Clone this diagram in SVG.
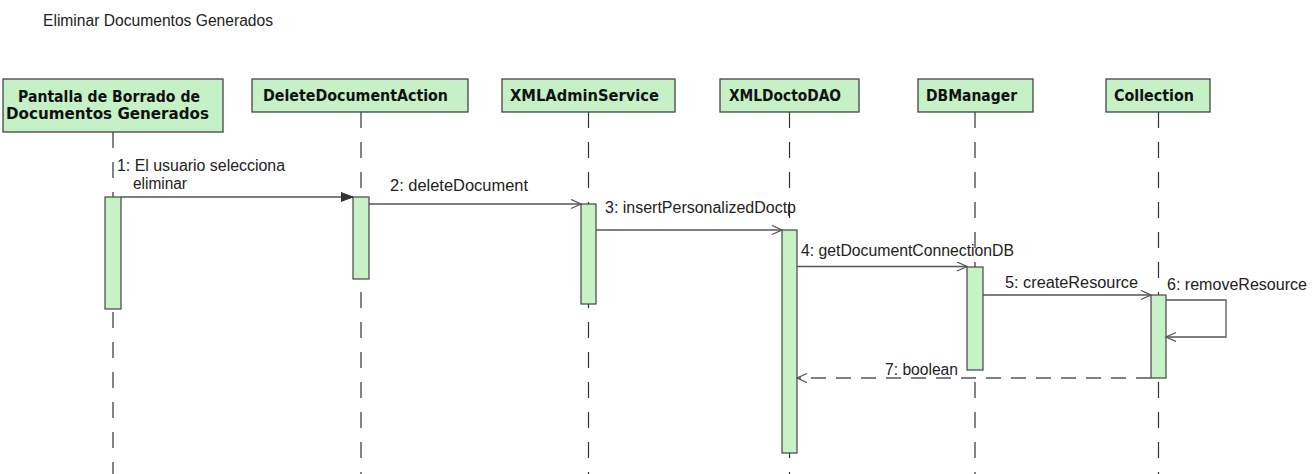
<svg xmlns="http://www.w3.org/2000/svg" width="1314" height="474" viewBox="0 0 1314 474">
  <style>
    .box { fill: #c6f0c6; stroke: #444; stroke-width: 1.3; }
    .bar { fill: #c6f2c6; stroke: #444; stroke-width: 1.2; }
    .life { stroke: #333; stroke-width: 1.2; stroke-dasharray: 16 14; fill: none; }
    .title { font-family: "DejaVu Sans", Verdana, sans-serif; font-weight: bold; font-size: 15.5px; fill: #111; }
    .lbl { font-family: "Liberation Sans", Arial, sans-serif; font-size: 16px; fill: #222; }
    .msg { stroke: #555; stroke-width: 1.3; fill: none; }
    .ret { stroke: #555; stroke-width: 1.3; fill: none; stroke-dasharray: 15 10; }
  </style>
  <defs>
    <marker id="open" markerUnits="userSpaceOnUse" markerWidth="14" markerHeight="12" refX="11" refY="5" orient="auto">
      <path d="M1,0.5 L11,5 L1,9.5" fill="none" stroke="#555" stroke-width="1.3"/>
    </marker>
    <marker id="filled" markerUnits="userSpaceOnUse" markerWidth="14" markerHeight="12" refX="12" refY="5" orient="auto">
      <path d="M0,0.5 L12,5 L0,9.5 Z" fill="#333" stroke="#333" stroke-width="1"/>
    </marker>
  </defs>

  <rect width="1314" height="474" fill="#fff"/>

  <text class="lbl" x="43" y="26" font-size="15.5" textLength="230" lengthAdjust="spacingAndGlyphs">Eliminar Documentos Generados</text>

  <!-- lifelines -->
  <g id="lifelines">
    <line class="life" x1="113" y1="132" x2="113" y2="474"/>
    <line class="life" x1="361" y1="112" x2="361" y2="474"/>
    <line class="life" x1="588.5" y1="112" x2="588.5" y2="474"/>
    <line class="life" x1="789.5" y1="112" x2="789.5" y2="474"/>
    <line class="life" x1="975" y1="112" x2="975" y2="474"/>
    <line class="life" x1="1158.5" y1="112" x2="1158.5" y2="474"/>
  </g>

  <!-- participants -->
  <g id="pantalla">
    <rect class="box" x="3" y="79" width="220" height="53"/>
    <text class="title" x="18" y="102" textLength="182" lengthAdjust="spacingAndGlyphs">Pantalla de Borrado de</text>
    <text class="title" x="6" y="119" textLength="203" lengthAdjust="spacingAndGlyphs">Documentos Generados</text>
    <rect class="bar" x="105" y="197" width="16" height="112"/>
  </g>
  <g id="deleteDocumentAction">
    <rect class="box" x="252" y="79" width="216" height="33"/>
    <text class="title" x="263" y="101" textLength="185" lengthAdjust="spacingAndGlyphs">DeleteDocumentAction</text>
    <rect class="bar" x="353" y="197" width="16" height="82"/>
  </g>
  <g id="xmlAdminService">
    <rect class="box" x="502" y="79" width="173" height="33"/>
    <text class="title" x="510" y="101" textLength="149" lengthAdjust="spacingAndGlyphs">XMLAdminService</text>
    <rect class="bar" x="581" y="204" width="15" height="100"/>
  </g>
  <g id="xmlDoctoDAO">
    <rect class="box" x="720" y="79" width="139" height="33"/>
    <text class="title" x="729" y="101" textLength="112" lengthAdjust="spacingAndGlyphs">XMLDoctoDAO</text>
    <rect class="bar" x="782" y="230" width="15" height="223"/>
  </g>
  <g id="dbManager">
    <rect class="box" x="918" y="79" width="115" height="33"/>
    <text class="title" x="926" y="101" textLength="91" lengthAdjust="spacingAndGlyphs">DBManager</text>
    <rect class="bar" x="967" y="267" width="16" height="103"/>
  </g>
  <g id="collection">
    <rect class="box" x="1106" y="79" width="104" height="33"/>
    <text class="title" x="1114" y="101" textLength="80" lengthAdjust="spacingAndGlyphs">Collection</text>
    <rect class="bar" x="1151" y="295" width="15" height="83"/>
  </g>

  <!-- messages -->
  <g id="connectors">
    <line class="msg" x1="121" y1="197" x2="353" y2="197" stroke="#444" marker-end="url(#filled)"/>
    <line class="msg" x1="369" y1="204" x2="581" y2="204" marker-end="url(#open)"/>
    <line class="msg" x1="596" y1="230" x2="782" y2="230" marker-end="url(#open)"/>
    <line class="msg" x1="797" y1="266.5" x2="967" y2="266.5" marker-end="url(#open)"/>
    <line class="msg" x1="983" y1="295" x2="1151" y2="295" marker-end="url(#open)"/>
    <polyline class="msg" points="1166,300 1226,300 1226,337 1166,337" marker-end="url(#open)"/>
    <line class="ret" x1="1151" y1="378" x2="797" y2="378" marker-end="url(#open)"/>

    <text class="lbl" x="117" y="171" textLength="168" lengthAdjust="spacingAndGlyphs">1: El usuario selecciona</text>
    <text class="lbl" x="133" y="189" textLength="54" lengthAdjust="spacingAndGlyphs">eliminar</text>
    <text class="lbl" x="390" y="191" textLength="138" lengthAdjust="spacingAndGlyphs">2: deleteDocument</text>
    <text class="lbl" x="605" y="213" textLength="191" lengthAdjust="spacingAndGlyphs">3: insertPersonalizedDoctp</text>
    <text class="lbl" x="801" y="256" textLength="213" lengthAdjust="spacingAndGlyphs">4: getDocumentConnectionDB</text>
    <text class="lbl" x="1005" y="288" textLength="133" lengthAdjust="spacingAndGlyphs">5: createResource</text>
    <text class="lbl" x="1167" y="290" textLength="140" lengthAdjust="spacingAndGlyphs">6: removeResource</text>
    <text class="lbl" x="885" y="375" textLength="73" lengthAdjust="spacingAndGlyphs">7: boolean</text>
  </g>
</svg>
